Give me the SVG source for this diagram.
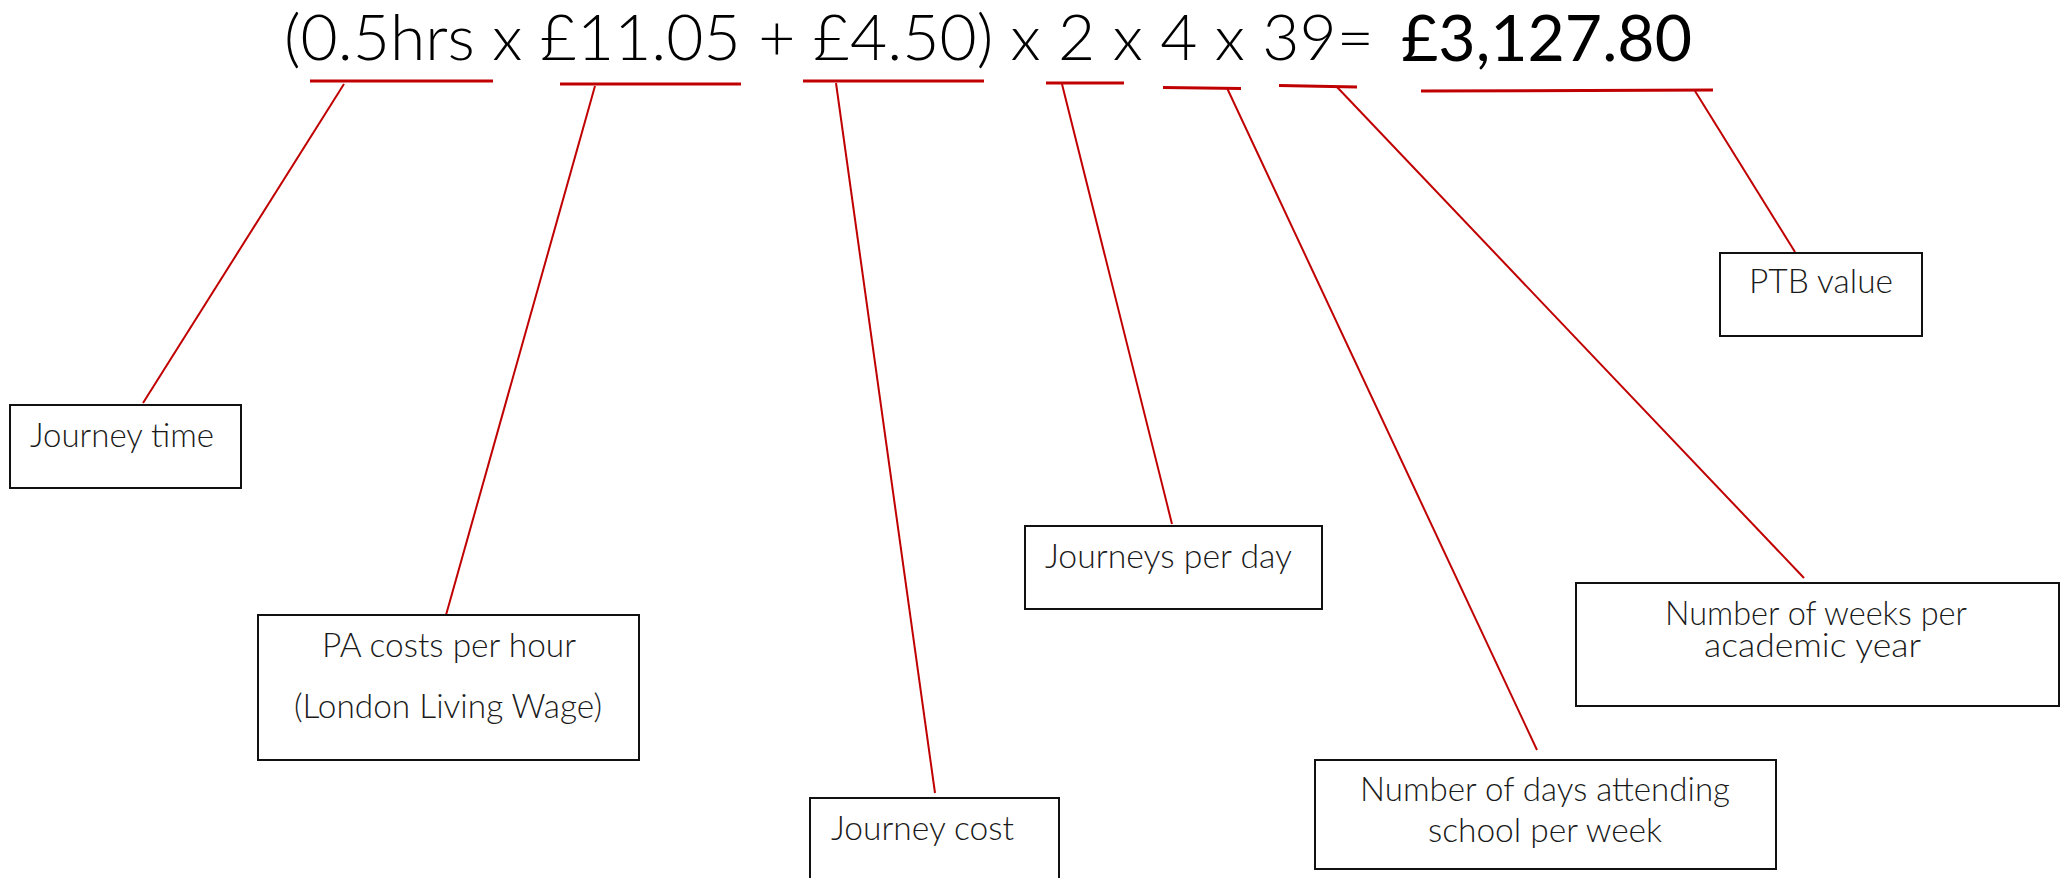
<svg xmlns="http://www.w3.org/2000/svg" width="2062" height="878" viewBox="0 0 2062 878">
<style>
.bg{fill:#ffffff}
.box{fill:#ffffff;stroke:#111111;stroke-width:2}
.lbl{font-family:Lato,"Open Sans","Liberation Sans",sans-serif;font-weight:300;font-size:33px;fill:#1a1a1a}
.f{font-family:Lato,"Open Sans","Liberation Sans",sans-serif;font-size:64px;fill:#000000}
.fl{font-weight:300}
.fb{font-weight:400}
.ul{stroke:#c00000;stroke-width:3;fill:none}
.ld{stroke:#c00000;stroke-width:2;fill:none}
</style>
<rect class="bg" x="0" y="0" width="2062" height="878"/>
<g id="formula">
<text class="f fl" x="284" y="60" textLength="1090" lengthAdjust="spacingAndGlyphs">(0.5hrs x £11.05 + £4.50) x 2 x 4 x 39=</text>
<text class="f fb" x="1401" y="61" textLength="291" lengthAdjust="spacingAndGlyphs">£3,127.80</text>
</g>
<g id="connectors">
<line class="ul" x1="310" y1="81" x2="493" y2="81"/>
<line class="ul" x1="560" y1="84" x2="741" y2="84"/>
<line class="ul" x1="803" y1="81" x2="984" y2="81"/>
<line class="ul" x1="1046" y1="83" x2="1124" y2="83"/>
<line class="ul" x1="1163" y1="87.5" x2="1241" y2="88.5"/>
<line class="ul" x1="1279" y1="85.5" x2="1357" y2="87"/>
<line class="ul" x1="1421" y1="91" x2="1713" y2="90"/>
<line class="ld" x1="344" y1="84" x2="143" y2="403"/>
<line class="ld" x1="595" y1="86" x2="446" y2="615"/>
<line class="ld" x1="836" y1="83" x2="935" y2="793"/>
<line class="ld" x1="1062" y1="84" x2="1172" y2="524"/>
<line class="ld" x1="1227" y1="88" x2="1537" y2="750"/>
<line class="ld" x1="1337" y1="87" x2="1804" y2="578"/>
<line class="ld" x1="1695" y1="91" x2="1795" y2="252"/>
</g>
<g id="node-journey-time">
<rect class="box" x="10" y="405" width="231" height="83"/>
<text class="lbl" x="30" y="447" textLength="184" lengthAdjust="spacingAndGlyphs">Journey time</text>
</g>
<g id="node-pa-costs">
<rect class="box" x="258" y="615" width="381" height="145"/>
<text class="lbl" x="322" y="657" textLength="254" lengthAdjust="spacingAndGlyphs">PA costs per hour</text>
<text class="lbl" x="294" y="718" textLength="308" lengthAdjust="spacingAndGlyphs">(London Living Wage)</text>
</g>
<g id="node-journey-cost">
<rect class="box" x="810" y="798" width="249" height="100"/>
<text class="lbl" x="831" y="840" textLength="183" lengthAdjust="spacingAndGlyphs">Journey cost</text>
</g>
<g id="node-journeys-per-day">
<rect class="box" x="1025" y="526" width="297" height="83"/>
<text class="lbl" x="1045" y="568" textLength="247" lengthAdjust="spacingAndGlyphs">Journeys per day</text>
</g>
<g id="node-days">
<rect class="box" x="1315" y="760" width="461" height="109"/>
<text class="lbl" x="1360" y="801" textLength="370" lengthAdjust="spacingAndGlyphs">Number of days attending</text>
<text class="lbl" x="1428" y="842" textLength="234" lengthAdjust="spacingAndGlyphs">school per week</text>
</g>
<g id="node-weeks">
<rect class="box" x="1576" y="583" width="483" height="123"/>
<text class="lbl" x="1665" y="625" textLength="302" lengthAdjust="spacingAndGlyphs">Number of weeks per</text>
<text class="lbl" x="1704" y="657" textLength="217" lengthAdjust="spacingAndGlyphs">academic year</text>
</g>
<g id="node-ptb">
<rect class="box" x="1720" y="253" width="202" height="83"/>
<text class="lbl" x="1749" y="293" textLength="144" lengthAdjust="spacingAndGlyphs">PTB value</text>
</g>
</svg>
